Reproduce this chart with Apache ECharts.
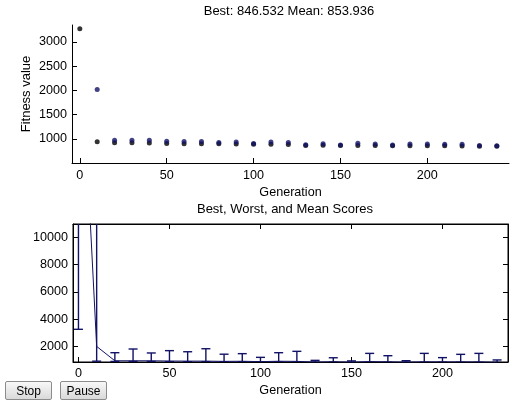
<!DOCTYPE html>
<html>
<head>
<meta charset="utf-8">
<script src="https://cdn.jsdelivr.net/npm/echarts@6/dist/echarts.min.js"></script>
<style>
html, body { margin: 0; padding: 0; background: #fff; }
#chart { width: 519px; height: 402px; }
.btn {
    position: absolute; top: 381px; height: 19px; width: 47px; padding: 0;
    font: 12px "Liberation Sans", Arial, sans-serif; color: #000;
    background: linear-gradient(#f8f8f8, #d9d9d9);
    border: 1px solid #8c8c8c; border-radius: 2px;
}
</style>
</head>
<body>
<div id="chart"></div>
<button class="btn" style="left:5px">Stop</button>
<button class="btn" style="left:60px">Pause</button>
<script>
// data ==========================================
const generations = [0, 10, 20, 30, 40, 50, 60, 70, 80, 90, 100, 110, 120,
    130, 140, 150, 160, 170, 180, 190, 200, 210, 220, 230, 240];
const bestScores = [3270, 940, 920, 920, 915, 905, 900, 900, 900, 890, 885, 885, 880,
    862, 865, 860, 860, 860, 858, 858, 858, 855, 852, 848, 846.532];
const meanScores = [28000, 2020, 970, 968, 968, 950, 945, 945, 925, 935, 905, 935, 925,
    875, 895, 870, 910, 890, 870, 890, 890, 885, 885, 860, 853.936];
// worst score per generation, bottom plot stops at 230
const worstScores = [60000, 15000, 1560, 1830, 1540, 1710, 1630, 1850, 1450, 1490, 1220, 1560, 1660,
    1000, 1190, 960, 1510, 1340, 975, 1510, 1200, 1440, 1510, 1030];
const genTicks = [0, 50, 100, 150, 200];
const fitTicks = [1000, 1500, 2000, 2500, 3000];
const scoreTicks = [2000, 4000, 6000, 8000, 10000];

const FONT = '"Liberation Sans", Arial, sans-serif';
const FS = 12.6;
const NAVY = '#121266';
const bottomGens = generations.slice(0, worstScores.length);
const lastIdx = generations.length - 1;

// 误差棒
function renderErrorBar(params, api) {
    const x = api.value(0);
    const lo = api.coord([x, api.value(1)]);
    const hi = api.coord([x, api.value(2)]);
    const w = 4.5;
    const style = { stroke: NAVY, lineWidth: 1.4, fill: null };
    return {
        type: 'group',
        children: [
            { type: 'line', shape: { x1: lo[0], y1: lo[1], x2: hi[0], y2: hi[1] }, style: style },
            { type: 'line', shape: { x1: lo[0] - w, y1: lo[1], x2: lo[0] + w, y2: lo[1] }, style: style },
            { type: 'line', shape: { x1: hi[0] - w, y1: hi[1], x2: hi[0] + w, y2: hi[1] }, style: style }
        ]
    };
}

function ticks(values) {
    return { show: true, inside: true, length: 5, customValues: values, lineStyle: { color: '#000' } };
}

function labels(values, margin) {
    return {
        color: '#000', fontFamily: FONT, fontSize: FS, margin: margin,
        customValues: values, formatter: v => String(v)
    };
}

function valueAxis(extra) {
    return Object.assign({
        type: 'value',
        axisLine: { show: true, onZero: false, lineStyle: { color: '#000', width: 1 } },
        splitLine: { show: false },
        nameMoveOverlap: false,
        nameTextStyle: { color: '#000', fontFamily: FONT, fontSize: FS }
    }, extra);
}

const textStyle = { color: '#000', fontFamily: FONT, fontSize: 13, fontWeight: 'normal' };

const chart = echarts.init(document.getElementById('chart'));
const option = {
    animation: false,
    backgroundColor: '#fff',
    title: [
        {
            text: 'Best: ' + bestScores[lastIdx].toFixed(3) + ' Mean: ' + meanScores[lastIdx].toFixed(3),
            left: 289, top: 5, textAlign: 'center', padding: 0, textStyle: textStyle
        },
        {
            text: 'Best, Worst, and Mean Scores',
            left: 285, top: 203, textAlign: 'center', padding: 0, textStyle: textStyle
        }
    ],
    grid: [
        { left: 72, right: 10, top: 25, height: 138 },
        { left: 73, right: 11, top: 224, height: 138, show: true, borderColor: '#000', borderWidth: 1 }
    ],
    xAxis: [
        valueAxis({
            gridIndex: 0, min: -4.5, max: 247,
            axisTick: ticks(genTicks), axisLabel: labels(genTicks, 6),
            name: 'Generation', nameLocation: 'middle', nameGap: 23
        }),
        valueAxis({
            gridIndex: 1, min: -3, max: 236,
            axisTick: ticks(genTicks), axisLabel: labels(genTicks, 5),
            name: 'Generation', nameLocation: 'middle', nameGap: 22
        }),
        valueAxis({
            gridIndex: 1, min: -3, max: 236, position: 'top',
            axisTick: ticks(genTicks), axisLabel: { show: false }
        })
    ],
    yAxis: [
        valueAxis({
            gridIndex: 0, min: 500, max: 3350,
            axisTick: ticks(fitTicks), axisLabel: labels(fitTicks, 5),
            name: 'Fitness value', nameLocation: 'middle', nameGap: 39,
            nameTextStyle: { color: '#000', fontFamily: FONT, fontSize: 13 }
        }),
        valueAxis({
            gridIndex: 1, min: 880, max: 10970,
            axisTick: ticks(scoreTicks), axisLabel: labels(scoreTicks, 5)
        }),
        valueAxis({
            gridIndex: 1, min: 880, max: 10970, position: 'right',
            axisTick: ticks(scoreTicks), axisLabel: { show: false }
        })
    ],
    series: [
        {
            type: 'scatter', xAxisIndex: 0, yAxisIndex: 0,
            data: generations.map((g, i) => [g, bestScores[i]]),
            symbol: 'circle', symbolSize: 5,
            itemStyle: { color: '#000' }, clip: true
        },
        {
            type: 'scatter', xAxisIndex: 0, yAxisIndex: 0,
            data: generations.map((g, i) => [g, meanScores[i]]),
            symbol: 'circle', symbolSize: 5,
            itemStyle: { color: NAVY }, clip: true
        },
        {
            type: 'line', xAxisIndex: 1, yAxisIndex: 1,
            data: bottomGens.map((g, i) => [g, meanScores[i]]),
            symbol: 'none', lineStyle: { color: NAVY, width: 1 }, clip: true
        },
        {
            type: 'custom', xAxisIndex: 1, yAxisIndex: 1,
            data: bottomGens.map((g, i) => [g, bestScores[i], worstScores[i]]),
            renderItem: renderErrorBar, clip: true
        }
    ]
};
chart.setOption(option);
</script>
</body>
</html>
